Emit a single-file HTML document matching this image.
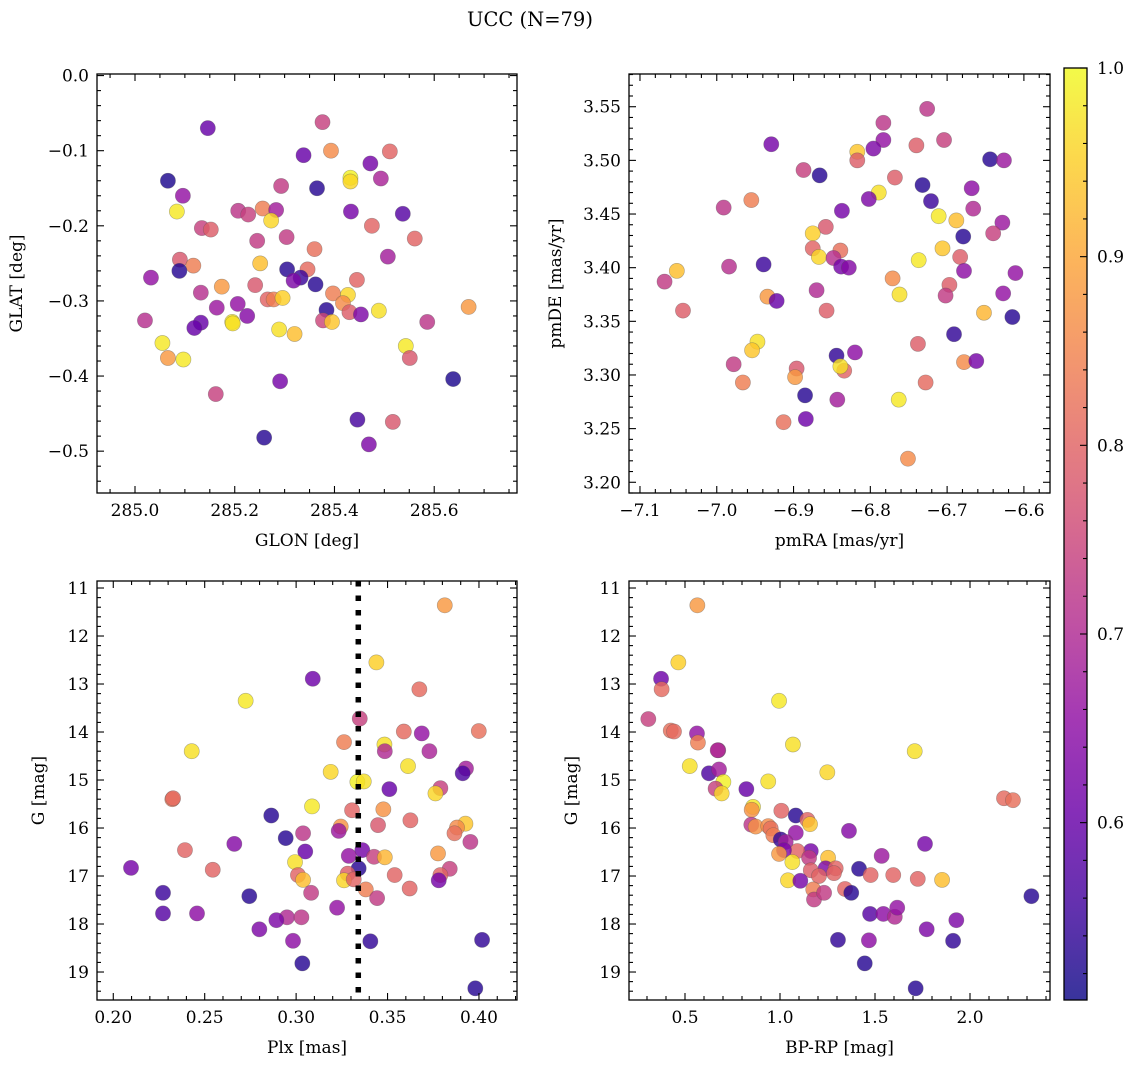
<!DOCTYPE html>
<html><head><meta charset="utf-8"><style>
html,body{margin:0;padding:0;background:#fff;}
svg{display:block;font-family:"DejaVu Serif","Liberation Serif",serif;}
</style></head><body>
<svg id="fig" width="1136" height="1068" viewBox="0 0 1136 1068" xmlns="http://www.w3.org/2000/svg">
<text x="530" y="26" font-size="19.5" text-anchor="middle">UCC (N=79)</text>
</svg>
<script>
// ---- Panel 1: GLON / GLAT ----
const glon=[285.146,285.376,285.338,285.393,285.511,285.472,285.066,285.432,285.432,285.493,285.365,285.293,285.096,285.084,285.207,285.227,285.256,285.283,285.273,285.433,285.537,285.134,285.152,285.475,285.561,285.304,285.245,285.360,285.507,285.090,285.251,285.117,285.089,285.305,285.346,285.032,285.332,285.318,285.362,285.445,285.174,285.241,285.132,285.397,285.427,285.266,285.278,285.296,285.417,285.206,285.164,285.669,285.489,285.384,285.430,285.453,285.225,285.020,285.377,285.395,285.586,285.132,285.119,285.195,285.196,285.289,285.320,285.055,285.543,285.066,285.097,285.551,285.291,285.638,285.162,285.446,285.517,285.259,285.469];
const glat=[-0.070,-0.062,-0.106,-0.100,-0.101,-0.117,-0.140,-0.136,-0.141,-0.137,-0.150,-0.147,-0.160,-0.181,-0.180,-0.185,-0.177,-0.179,-0.193,-0.181,-0.184,-0.203,-0.205,-0.200,-0.217,-0.215,-0.220,-0.231,-0.241,-0.245,-0.250,-0.253,-0.260,-0.258,-0.258,-0.269,-0.269,-0.273,-0.278,-0.272,-0.281,-0.279,-0.289,-0.290,-0.292,-0.298,-0.298,-0.296,-0.303,-0.304,-0.309,-0.308,-0.313,-0.312,-0.315,-0.318,-0.320,-0.326,-0.326,-0.328,-0.328,-0.329,-0.336,-0.328,-0.330,-0.338,-0.344,-0.356,-0.360,-0.376,-0.378,-0.376,-0.407,-0.404,-0.424,-0.458,-0.461,-0.482,-0.491];
const prob1=[.60,.74,.60,.86,.80,.62,.52,.99,.96,.69,.53,.73,.66,.98,.72,.74,.84,.68,.96,.62,.58,.74,.79,.80,.80,.73,.73,.82,.68,.78,.93,.84,.53,.53,.81,.66,.55,.63,.53,.80,.88,.78,.71,.84,.96,.80,.84,.95,.86,.66,.67,.88,.97,.53,.79,.63,.64,.71,.75,.94,.72,.60,.60,.98,.97,.97,.93,.98,.98,.88,.98,.78,.62,.52,.74,.56,.78,.53,.63];
// ---- Panel 2: pmRA / pmDE ----
const pmra=[-6.726,-6.783,-6.783,-6.796,-6.929,-6.740,-6.704,-6.817,-6.817,-6.644,-6.626,-6.887,-6.866,-6.768,-6.789,-6.802,-6.732,-6.721,-6.668,-6.666,-6.991,-6.955,-6.837,-6.711,-6.688,-6.628,-6.640,-6.858,-6.875,-6.679,-6.706,-6.839,-6.875,-6.867,-6.683,-6.848,-6.838,-6.828,-6.737,-6.939,-6.984,-7.052,-7.068,-6.678,-6.611,-6.771,-6.697,-6.702,-6.627,-6.762,-6.870,-6.934,-6.922,-7.044,-6.857,-6.652,-6.615,-6.691,-6.947,-6.954,-6.738,-6.820,-6.844,-6.978,-6.678,-6.662,-6.896,-6.898,-6.834,-6.839,-6.966,-6.728,-6.885,-6.763,-6.843,-6.884,-6.913,-6.751];
const pmde=[3.548,3.535,3.519,3.511,3.515,3.514,3.519,3.508,3.500,3.501,3.500,3.491,3.486,3.484,3.470,3.464,3.477,3.462,3.474,3.455,3.456,3.463,3.453,3.448,3.444,3.442,3.432,3.438,3.432,3.429,3.418,3.416,3.418,3.410,3.410,3.409,3.401,3.400,3.407,3.403,3.401,3.397,3.387,3.397,3.395,3.390,3.384,3.374,3.376,3.375,3.379,3.373,3.369,3.360,3.360,3.358,3.354,3.338,3.331,3.323,3.329,3.321,3.318,3.310,3.312,3.313,3.306,3.298,3.304,3.308,3.293,3.293,3.281,3.277,3.277,3.259,3.256,3.222];
const prob2=[.72,.72,.66,.63,.62,.79,.74,.94,.79,.53,.67,.74,.53,.79,.97,.63,.53,.55,.65,.70,.72,.84,.62,.98,.93,.67,.74,.78,.95,.53,.94,.82,.80,.96,.79,.71,.62,.64,.98,.55,.71,.93,.73,.65,.66,.86,.79,.73,.66,.97,.70,.88,.60,.79,.79,.92,.53,.54,.97,.94,.79,.65,.54,.73,.86,.62,.78,.88,.80,.97,.84,.81,.53,.98,.68,.61,.82,.86];
// ---- Panel 3: Plx / G ----
const plx=[0.3813,0.3439,0.3091,0.3674,0.2724,0.3348,0.3262,0.2429,0.3589,0.3687,0.3999,0.3483,0.3485,0.3729,0.3612,0.3189,0.3929,0.3911,0.3335,0.3370,0.2323,0.2327,0.3789,0.3762,0.3510,0.3087,0.3477,0.3306,0.2864,0.3625,0.3926,0.3880,0.3866,0.3244,0.3233,0.3448,0.3038,0.3953,0.2943,0.2662,0.3050,0.3362,0.3288,0.3426,0.3485,0.3776,0.2392,0.2994,0.2097,0.2544,0.3342,0.3840,0.3539,0.3010,0.3282,0.3789,0.3780,0.3038,0.3262,0.3315,0.3082,0.3381,0.3621,0.2272,0.2744,0.3443,0.2272,0.2458,0.3224,0.2950,0.3029,0.2892,0.2799,0.2983,0.3406,0.4017,0.3034,0.3980];
const gmag3=[11.36,12.55,12.89,13.11,13.35,13.72,14.21,14.40,13.99,14.03,13.98,14.26,14.40,14.40,14.71,14.83,14.76,14.86,15.04,15.03,15.40,15.38,15.17,15.28,15.19,15.55,15.61,15.63,15.74,15.84,15.91,15.99,16.11,15.97,16.06,15.94,16.11,16.29,16.21,16.33,16.49,16.46,16.58,16.60,16.61,16.53,16.46,16.71,16.83,16.87,16.84,16.85,16.98,16.98,16.95,16.98,17.09,17.08,17.09,17.07,17.35,17.28,17.26,17.35,17.42,17.46,17.78,17.78,17.66,17.86,17.86,17.92,18.11,18.35,18.36,18.33,18.82,19.34];
const prob3=[.88,.95,.61,.81,.98,.74,.84,.97,.81,.66,.82,.97,.70,.69,.97,.96,.68,.57,.99,.97,.83,.81,.74,.96,.60,.98,.87,.80,.53,.80,.94,.86,.82,.87,.67,.78,.72,.72,.53,.64,.60,.62,.66,.74,.92,.88,.80,.97,.62,.80,.53,.74,.80,.80,.79,.80,.62,.93,.96,.80,.73,.84,.80,.55,.53,.73,.58,.65,.66,.70,.72,.63,.63,.65,.54,.54,.53,.53];
const plxLine=[0.334];
// ---- Panel 4: BP-RP / G ----
const bprp=[0.565,0.465,0.374,0.377,0.995,0.307,0.425,0.442,0.563,0.568,0.675,0.672,1.068,1.709,0.525,0.626,0.679,1.249,0.702,0.938,0.661,0.693,0.823,2.179,2.226,0.858,0.851,1.007,1.083,1.144,1.158,0.849,0.872,0.938,0.951,1.083,1.363,0.965,1.004,1.030,1.763,1.162,1.091,1.021,1.535,0.995,1.153,1.253,1.065,1.240,1.293,1.416,1.162,1.205,1.284,1.477,1.596,1.725,1.853,1.042,1.107,2.323,1.342,1.375,1.175,1.179,1.232,1.474,1.544,1.604,1.617,1.928,1.772,1.305,1.468,1.911,1.446,1.714];
const gmag4=[11.36,12.55,12.89,13.11,13.35,13.73,13.97,13.99,14.03,14.22,14.38,14.38,14.26,14.40,14.71,14.86,14.78,14.84,15.04,15.03,15.18,15.28,15.19,15.38,15.42,15.56,15.62,15.64,15.74,15.83,15.92,15.93,15.97,15.96,16.01,16.10,16.06,16.15,16.24,16.29,16.33,16.48,16.48,16.46,16.58,16.54,16.62,16.62,16.71,16.84,16.84,16.85,16.88,17.00,16.94,16.98,16.98,17.06,17.08,17.09,17.10,17.42,17.27,17.35,17.28,17.49,17.35,17.79,17.79,17.85,17.66,17.92,18.11,18.33,18.34,18.35,18.82,19.34];
const prob4=[.88,.95,.61,.81,.98,.74,.82,.81,.66,.84,.69,.70,.97,.97,.97,.57,.68,.96,.99,.97,.74,.96,.60,.81,.82,.98,.87,.80,.53,.80,.94,.72,.87,.86,.82,.66,.64,.84,.54,.68,.62,.62,.80,.63,.67,.88,.73,.93,.97,.63,.80,.53,.79,.80,.80,.80,.80,.80,.93,.96,.62,.53,.80,.53,.84,.73,.73,.58,.65,.70,.66,.63,.63,.54,.65,.54,.53,.53];
// ---- Colorbar ----
const cbTicks=[0.6,0.7,0.8,0.9,1.0];
const cbLabels=["0.6","0.7","0.8","0.9","1.0"];
const VMIN=0.506, VMAX=1.0;

const NS="http://www.w3.org/2000/svg";
const svg=document.getElementById('fig');
const plasma=[[13,8,135],[65,4,157],[106,0,168],[143,13,164],[177,42,144],[204,71,120],[225,100,98],[242,132,75],[252,166,54],[252,206,37],[240,249,33]];
function cmap(v){
  let t=(v-VMIN)/(VMAX-VMIN); t=Math.max(0,Math.min(1,t));
  const f=t*10, i=Math.min(9,Math.floor(f)), r=f-i;
  const a=plasma[i], b=plasma[i+1];
  return 'rgb('+[0,1,2].map(k=>Math.round(a[k]+(b[k]-a[k])*r)).join(',')+')';
}
function mk(tag,attrs,parent){
  const e=document.createElementNS(NS,tag);
  for(const k in attrs)e.setAttribute(k,attrs[k]);
  (parent||svg).appendChild(e);return e;
}

function panel(cfg){
  const g=mk('g',{});
  
  
  const X=v=>cfg.x0+(v-cfg.xmin)/(cfg.xmax-cfg.xmin)*cfg.w;
  const Y=v=>cfg.y0+(v-cfg.ytop)/(cfg.ybot-cfg.ytop)*cfg.h;
  const pts=mk('g',{},g);
  
  
  for(let i=0;i<cfg.xs.length;i++){
    const c=mk('circle',{cx:X(cfg.xs[i]),cy:Y(cfg.ys[i]),r:7.6,fill:cmap(cfg.ps[i]),'fill-opacity':0.82,stroke:'#555','stroke-opacity':0.45,'stroke-width':0.6},pts);
    
    
  }
  if(cfg.vline){
    for(const v of cfg.vline){
      const l=mk('line',{x1:X(v),x2:X(v),y1:cfg.y0,y2:cfg.y0+cfg.h,stroke:'#000','stroke-width':5.5,'stroke-dasharray':'5.5 9'},g);
      
      
    }
  }
  const fr=mk('rect',{x:cfg.x0,y:cfg.y0,width:cfg.w,height:cfg.h,fill:'none',stroke:'#000','stroke-width':1.3},g);
  
  
  const tk=mk('g',{stroke:'#000','stroke-width':1.1},g);
  
  
  const xlo=Math.min(cfg.xmin,cfg.xmax), xhi=Math.max(cfg.xmin,cfg.xmax);
  for(let v=Math.ceil(xlo/cfg.xminor-1e-6)*cfg.xminor; v<=xhi+1e-9; v+=cfg.xminor){
    const px=X(v);
    const major=cfg.xticks.some(t=>Math.abs(t-v)<cfg.xminor/10);
    const L=major?7:4;
    mk('line',{x1:px,x2:px,y1:cfg.y0+cfg.h,y2:cfg.y0+cfg.h-L},tk);
    mk('line',{x1:px,x2:px,y1:cfg.y0,y2:cfg.y0+L},tk);
  }
  const ylo=Math.min(cfg.ytop,cfg.ybot), yhi=Math.max(cfg.ytop,cfg.ybot);
  for(let v=Math.ceil(ylo/cfg.yminor-1e-6)*cfg.yminor; v<=yhi+1e-9; v+=cfg.yminor){
    const py=Y(v);
    const major=cfg.yticks.some(t=>Math.abs(t-v)<cfg.yminor/10);
    const L=major?7:4;
    mk('line',{x1:cfg.x0,x2:cfg.x0+L,y1:py,y2:py},tk);
    mk('line',{x1:cfg.x0+cfg.w,x2:cfg.x0+cfg.w-L,y1:py,y2:py},tk);
  }
  cfg.xticks.forEach((t,i)=>{
    const e=mk('text',{x:X(t),y:cfg.y0+cfg.h+23,'font-size':17,'text-anchor':'middle'},g);
    e.textContent=cfg.xlabels[i];
    
    
  });
  cfg.yticks.forEach((t,i)=>{
    const e=mk('text',{x:cfg.x0-8,y:Y(t)+6,'font-size':17,'text-anchor':'end'},g);
    e.textContent=cfg.ylabels[i];
    
    
  });
  const xt=mk('text',{x:cfg.x0+cfg.w/2,y:cfg.y0+cfg.h+53,'font-size':17,'text-anchor':'middle'},g);
  xt.textContent=cfg.xtitle;
  
  
  const yc=cfg.y0+cfg.h/2;
  const yt=mk('text',{x:cfg.ytx,y:yc,'font-size':17,'text-anchor':'middle',transform:'rotate(-90 '+cfg.ytx+' '+yc+')'},g);
  yt.textContent=cfg.ytitle;
  
  
}

panel({name:'glon-glat-panel',x0:97,y0:74,w:420,h:419,xmin:284.9238,xmax:285.766,ytop:0.0021,ybot:-0.5557,
  xs:glon,ys:glat,ps:prob1,xticks:[285.0,285.2,285.4,285.6],xlabels:['285.0','285.2','285.4','285.6'],xminor:0.05,
  yticks:[0,-0.1,-0.2,-0.3,-0.4,-0.5],ylabels:['0.0','\u22120.1','\u22120.2','\u22120.3','\u22120.4','\u22120.5'],yminor:0.02,
  xtitle:'GLON [deg]',ytitle:'GLAT [deg]',ytx:22});
panel({name:'pm-panel',x0:629,y0:74,w:421,h:419,xmin:-7.1143,xmax:-6.566,ytop:3.5805,ybot:3.190,
  xs:pmra,ys:pmde,ps:prob2,xticks:[-7.1,-7.0,-6.9,-6.8,-6.7,-6.6],xlabels:['\u22127.1','\u22127.0','\u22126.9','\u22126.8','\u22126.7','\u22126.6'],xminor:0.02,
  yticks:[3.20,3.25,3.30,3.35,3.40,3.45,3.50,3.55],ylabels:['3.20','3.25','3.30','3.35','3.40','3.45','3.50','3.55'],yminor:0.01,
  xtitle:'pmRA [mas/yr]',ytitle:'pmDE [mas/yr]',ytx:561});
panel({name:'plx-g-panel',x0:97,y0:581,w:420,h:419,xmin:0.1911,xmax:0.4208,ytop:10.854,ybot:19.583,
  xs:plx,ys:gmag3,ps:prob3,vline:plxLine,xticks:[0.20,0.25,0.30,0.35,0.40],xlabels:['0.20','0.25','0.30','0.35','0.40'],xminor:0.01,
  yticks:[11,12,13,14,15,16,17,18,19],ylabels:['11','12','13','14','15','16','17','18','19'],yminor:0.2,
  xtitle:'Plx [mas]',ytitle:'G [mag]',ytx:44});
panel({name:'cmd-panel',x0:629,y0:581,w:421,h:419,xmin:0.2053,xmax:2.421,ytop:10.854,ybot:19.583,
  xs:bprp,ys:gmag4,ps:prob4,xticks:[0.5,1.0,1.5,2.0],xlabels:['0.5','1.0','1.5','2.0'],xminor:0.1,
  yticks:[11,12,13,14,15,16,17,18,19],ylabels:['11','12','13','14','15','16','17','18','19'],yminor:0.2,
  xtitle:'BP-RP [mag]',ytitle:'G [mag]',ytx:577});

(function(){
  const cx=1064, cw=23, cy0=68, cy1=1000;
  const C=v=>cy1-(v-VMIN)/(VMAX-VMIN)*(cy1-cy0);
  const defs=mk('defs',{});
  const lg=mk('linearGradient',{id:'cbg',x1:0,y1:1,x2:0,y2:0},defs);
  for(let i=0;i<=20;i++){
    const v=VMIN+(VMAX-VMIN)*i/20;
    mk('stop',{offset:(i/20),'stop-color':cmap(v)},lg);
  }
  const g=mk('g',{});
  
  
  mk('rect',{x:cx,y:cy0,width:cw,height:cy1-cy0,fill:'url(#cbg)','fill-opacity':0.82},g);
  mk('rect',{x:cx,y:cy0,width:cw,height:cy1-cy0,fill:'none',stroke:'#000','stroke-width':1.3},g);
  for(let v=0.52; v<=1.0001; v+=0.02){
    const major=cbTicks.some(t=>Math.abs(t-v)<0.002);
    const py=C(v);
    mk('line',{x1:cx+cw,x2:cx+cw-(major?7:4),y1:py,y2:py,stroke:'#000','stroke-width':1.1},g);
  }
  cbTicks.forEach((t,i)=>{
    const e=mk('text',{x:cx+cw+10,y:C(t)+6,'font-size':17},g);
    e.textContent=cbLabels[i];
    
    
  });
})();
</script>
</body></html>
